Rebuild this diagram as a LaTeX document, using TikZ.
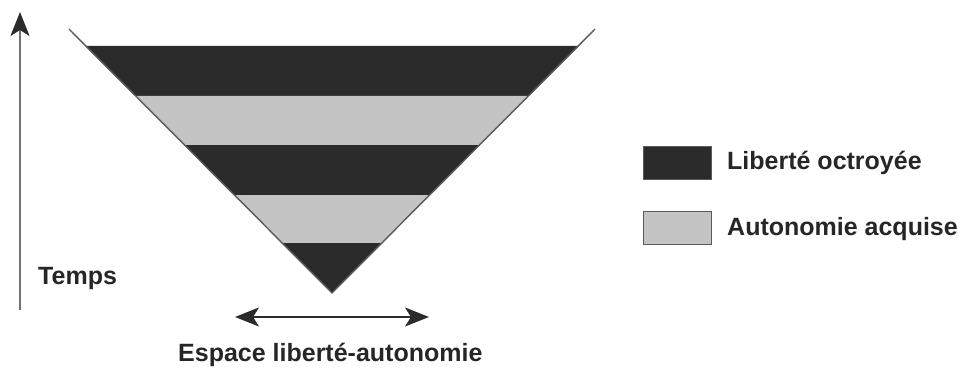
\documentclass[tikz,border=0pt]{standalone}
\usepackage{fontspec}
\setmainfont{Liberation Sans}
\usetikzlibrary{arrows.meta}
\definecolor{darkband}{HTML}{2B2B2B}
\definecolor{lightband}{HTML}{C4C4C4}
\definecolor{edgegray}{HTML}{5A5A5A}
\definecolor{txt}{HTML}{262626}
\tikzset{
  lbl/.style={anchor=base west, inner sep=0pt, font=\fontsize{25}{30}\selectfont\bfseries, text=txt},
  legbox/.style={draw=edgegray, line width=1pt, minimum width=68pt, minimum height=33pt, inner sep=0pt},
  tipdark/.tip={Stealth[length=24pt,width=19pt,inset=6pt,color=darkband]},
  edge/.style={draw=edgegray, line width=1.4pt}
}
\begin{document}
\begin{tikzpicture}[x=1pt,y=-1pt]
\useasboundingbox (0,0) rectangle (959,369);
% bands: half-width = 293 - y, centre x = 332
\foreach \ya/\yb/\c in {46/96/darkband,96/145/lightband,145/195/darkband,195/243/lightband}{
  \fill[\c] ({332-(293-\ya)},\ya) -- ({332+(293-\ya)},\ya) -- ({332+(293-\yb)},\yb) -- ({332-(293-\yb)},\yb) -- cycle;
}
\fill[darkband] ({332-(293-243)},243) -- ({332+(293-243)},243) -- (332,293) -- cycle;
% outline of the V
\coordinate (tl) at (69,29);
\coordinate (apex) at (332,293);
\coordinate (tr) at (595,29);
\draw[edge] (tl) -- (apex) -- (tr);
% time axis
\coordinate (tbot) at (20,310);
\coordinate (ttop) at (20,12);
\draw[-tipdark, draw=gray!90!black, line width=1.6pt] (tbot) -- (ttop);
\node[lbl] (temps) at (38,284) {Temps};
% space arrow
\coordinate (sl) at (235,317);
\coordinate (sr) at (429,317);
\draw[tipdark-tipdark, draw=darkband, line width=1.6pt] (sl) -- (sr);
\node[lbl] (espace) at (178,361) {Espace liberté-autonomie};
% legend
\node[legbox, fill=darkband] (lb1) at (677,162.5) {};
\node[legbox, fill=lightband] (lb2) at (677,228) {};
\node[lbl] (lt1) at (727,169) {Liberté octroyée};
\node[lbl] (lt2) at (727,235) {Autonomie acquise};
\end{tikzpicture}
\end{document}
